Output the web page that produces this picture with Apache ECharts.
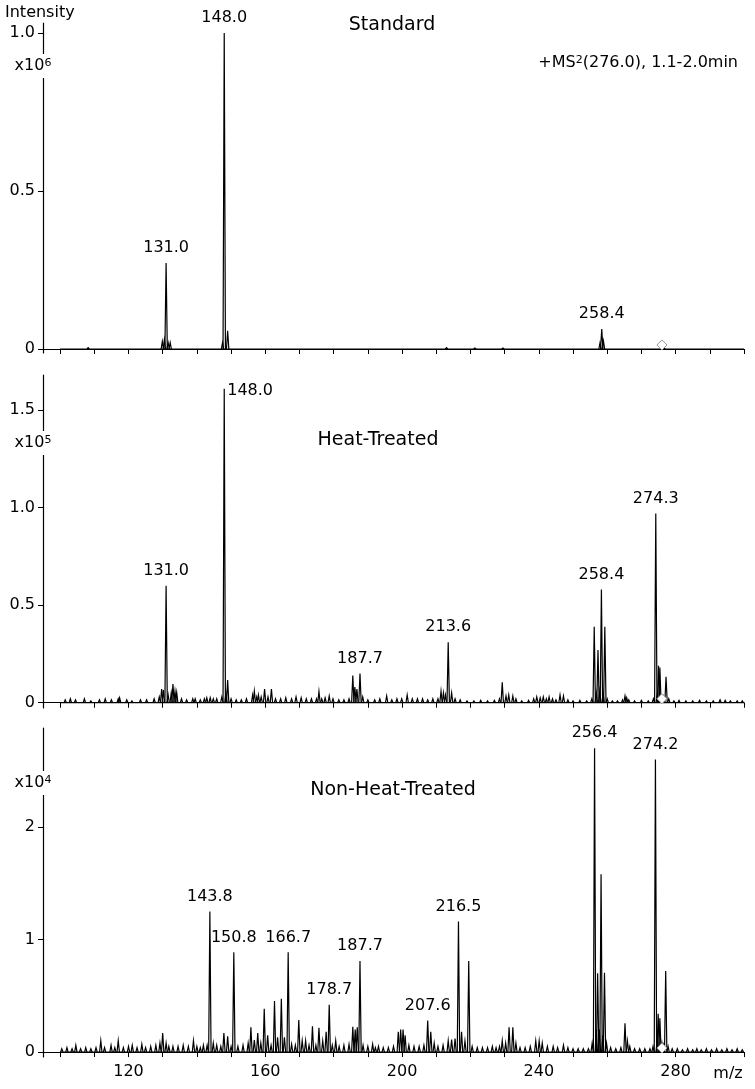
<!DOCTYPE html>
<html>
<head>
<meta charset="utf-8">
<script src="https://cdn.jsdelivr.net/npm/echarts@6/dist/echarts.min.js"></script>
<style>
html, body { margin: 0; padding: 0; background: #fff; }
#canvas { width: 755px; height: 1089px; }
</style>
</head>
<body>
<div id="canvas"></div>
<script>
var mzRange = [100, 300];
var precursorMz = 276.0;
var xTicks = [100, 110, 120, 130, 140, 150, 160, 170, 180, 190, 200, 210, 220, 230, 240, 250, 260, 270, 280, 290, 300];
var xTickLabels = [120, 160, 200, 240, 280];

// Standard, intensity x10^6
var standardPeaks = [
    [108.2, 0.004], [129.9, 0.024], [130.5, 0.03], [131.0, 0.272], [131.6, 0.02], [132.2, 0.02],
    [147.5, 0.02], [148.0, 1.0], [149.0, 0.058], [213.0, 0.004], [221.3, 0.003], [229.5, 0.003],
    [257.9, 0.02], [258.4, 0.063], [258.9, 0.025], [276.6, 0.004]
];
var standardLabels = ['131.0', '148.0', '258.4'];
var standardTicks = [0, 0.5, 1.0];

// Heat-Treated, intensity x10^5
var heatPeaks = [
    [101.5, 0.015], [103, 0.02], [104.5, 0.015], [107.1, 0.02], [109, 0.01], [111.5, 0.015], [113.2, 0.02],
    [115, 0.015], [117.0, 0.02], [117.4, 0.025], [119.5, 0.015], [121, 0.01], [123.5, 0.015], [125.3, 0.015],
    [127.5, 0.02], [129.0, 0.03], [129.7, 0.07], [130.2, 0.065], [131.0, 0.60], [131.6, 0.04], [132.5, 0.05],
    [133.0, 0.096], [133.6, 0.06], [134.1, 0.053], [135.5, 0.02], [137, 0.015], [138.8, 0.02], [139.5, 0.02],
    [141, 0.015], [142.2, 0.02], [142.9, 0.025], [143.9, 0.025], [144.8, 0.02], [145.8, 0.02], [147.3, 0.03],
    [148.0, 1.61], [148.5, 0.05], [149.0, 0.116], [150, 0.02], [151.5, 0.015], [153, 0.015], [154.5, 0.02],
    [156.3, 0.04], [156.8, 0.06], [157.5, 0.03], [158.0, 0.04], [158.8, 0.03], [159.8, 0.07], [160.8, 0.03],
    [161.8, 0.07], [163, 0.02], [164.5, 0.02], [166, 0.025], [167.7, 0.02], [169, 0.03], [170.5, 0.025],
    [172, 0.02], [173.5, 0.02], [175.0, 0.02], [175.7, 0.058], [176.5, 0.02], [177.5, 0.025], [178.7, 0.035],
    [179.8, 0.02], [181.5, 0.015], [183, 0.015], [184.5, 0.02], [185.6, 0.14], [186.2, 0.08], [186.8, 0.07],
    [187.7, 0.15], [188.5, 0.03], [190, 0.015], [192, 0.015], [193.5, 0.02], [195.5, 0.035], [197, 0.015],
    [198.5, 0.02], [199.9, 0.02], [201.5, 0.04], [203, 0.02], [204.5, 0.02], [206, 0.02], [207.5, 0.015],
    [209, 0.02], [210.5, 0.02], [211.4, 0.06], [212.1, 0.05], [212.7, 0.04], [213.5, 0.31], [214.5, 0.05],
    [215.5, 0.02], [217, 0.015], [219, 0.01], [221, 0.01], [223, 0.012], [225, 0.01], [227, 0.012],
    [228.5, 0.02], [229.3, 0.105], [230.4, 0.035], [231.2, 0.04], [232.4, 0.035], [233.3, 0.02], [235, 0.01],
    [237, 0.012], [238.5, 0.02], [239.4, 0.03], [240.4, 0.025], [241.3, 0.03], [242.2, 0.02], [243.0, 0.03],
    [244.0, 0.02], [245, 0.015], [246.2, 0.04], [247.2, 0.035], [248.5, 0.015], [250, 0.01], [252, 0.012],
    [254, 0.01], [255.5, 0.02], [256.2, 0.39], [256.8, 0.05], [257.3, 0.27], [257.8, 0.06], [258.3, 0.58],
    [258.8, 0.05], [259.3, 0.39], [260, 0.02], [261.5, 0.01], [263, 0.01], [264.5, 0.015], [265.2, 0.035],
    [265.7, 0.025], [266.3, 0.015], [268, 0.01], [270, 0.012], [272, 0.01], [273.5, 0.02], [274.2, 0.97],
    [274.6, 0.04], [275.0, 0.19], [275.4, 0.18], [276.0, 0.03], [276.5, 0.03], [277.2, 0.133], [278, 0.02],
    [279.5, 0.01], [281, 0.012], [283, 0.01], [285, 0.01], [287, 0.012], [289, 0.01], [291, 0.01],
    [293, 0.015], [294.5, 0.012], [296, 0.01], [298, 0.01], [299.5, 0.01]
];
var heatLabels = ['131.0', '148.0', '187.7', '213.6', '258.4', '274.3'];
var heatTicks = [0, 0.5, 1.0, 1.5];

// Non-Heat-Treated, intensity x10^4
var nonHeatPeaks = [
    [100.5, 0.03], [102, 0.04], [103.5, 0.03], [104.6, 0.06], [106, 0.03], [107.5, 0.04], [109, 0.03],
    [110.5, 0.04], [111.9, 0.1], [113, 0.04], [114.9, 0.06], [116.0, 0.04], [117.0, 0.1], [118.5, 0.04],
    [120, 0.05], [121.1, 0.06], [122.5, 0.04], [123.9, 0.07], [125, 0.04], [126.5, 0.05], [128, 0.06],
    [129.2, 0.08], [130.0, 0.17], [131.0, 0.08], [131.8, 0.05], [133, 0.05], [134.5, 0.05], [136, 0.06],
    [137.5, 0.05], [139, 0.1], [140, 0.05], [141, 0.04], [141.9, 0.06], [143, 0.06], [143.8, 1.25],
    [144.8, 0.08], [145.8, 0.06], [147, 0.05], [147.9, 0.17], [149.0, 0.14], [150.0, 0.05], [150.8, 0.886],
    [152, 0.05], [153.5, 0.06], [155, 0.08], [155.8, 0.22], [156.8, 0.107], [157.8, 0.17], [158.7, 0.08],
    [159.7, 0.385], [160.7, 0.15], [161.7, 0.06], [162.7, 0.453], [163.6, 0.13], [164.7, 0.474],
    [165.6, 0.13], [166.7, 0.886], [167.7, 0.07], [168.8, 0.06], [169.8, 0.284], [170.8, 0.1], [171.8, 0.1],
    [172.8, 0.06], [173.8, 0.23], [174.8, 0.06], [175.7, 0.216], [176.8, 0.1], [177.8, 0.18], [178.7, 0.42],
    [179.6, 0.06], [180.6, 0.1], [181.6, 0.05], [183, 0.06], [184.5, 0.07], [185.6, 0.225], [186.3, 0.2],
    [186.9, 0.22], [187.7, 0.81], [188.6, 0.06], [190, 0.05], [191.4, 0.07], [192.2, 0.04], [193.1, 0.05],
    [194.5, 0.04], [196, 0.04], [197.5, 0.05], [198.9, 0.18], [199.6, 0.2], [200.3, 0.2], [200.9, 0.15],
    [202, 0.06], [203.5, 0.05], [205, 0.05], [206.4, 0.06], [207.5, 0.28], [208.4, 0.18], [209.4, 0.08],
    [210.5, 0.05], [212, 0.06], [213.5, 0.1], [214.5, 0.11], [215.5, 0.12], [216.5, 1.16], [217.4, 0.18],
    [218.4, 0.1], [219.5, 0.81], [220.5, 0.05], [222, 0.04], [223.5, 0.04], [225, 0.04], [226.4, 0.05],
    [227.5, 0.04], [228.5, 0.05], [229.3, 0.1], [230.3, 0.08], [231.3, 0.22], [232.4, 0.22], [233.3, 0.08],
    [234.5, 0.04], [236, 0.04], [237.5, 0.05], [239.1, 0.1], [240.1, 0.1], [241.0, 0.08], [242.5, 0.05],
    [244.2, 0.05], [245.5, 0.04], [247.2, 0.06], [248.5, 0.04], [250, 0.03], [251.5, 0.03], [253, 0.03],
    [254.5, 0.03], [255.6, 0.08], [256.3, 2.70], [256.8, 0.2], [257.2, 0.70], [257.7, 0.2], [258.2, 1.58],
    [258.7, 0.15], [259.2, 0.705], [259.8, 0.08], [261, 0.04], [262.5, 0.03], [264, 0.04], [265.2, 0.255],
    [265.9, 0.1], [266.6, 0.05], [268, 0.03], [269.5, 0.03], [271, 0.03], [272.5, 0.03], [273.4, 0.05],
    [274.1, 2.60], [274.6, 0.1], [274.9, 0.34], [275.4, 0.3], [276.0, 0.08], [276.5, 0.06], [277.1, 0.72],
    [277.8, 0.05], [279, 0.03], [280.5, 0.03], [282, 0.02], [283.5, 0.03], [285, 0.02], [286.2, 0.03],
    [287.5, 0.02], [289, 0.03], [290.5, 0.02], [292, 0.03], [293.5, 0.02], [295, 0.03], [296.5, 0.02],
    [298, 0.03], [299.5, 0.02]
];
var nonHeatLabels = ['143.8', '150.8', '166.7', '178.7', '187.7', '207.6', '216.5', '256.4', '274.2'];
var nonHeatTicks = [0, 1, 2];

var panelTitles = ['Standard', 'Heat-Treated', 'Non-Heat-Treated'];
var panelExponents = ['6', '5', '4'];
var yRanges = [[-0.0127, 1.032], [-0.027, 1.68], [-0.044, 2.88]];

var FONT = 'DejaVu Sans';
var gridTops = [23, 375, 728];
var gridHeights = [330, 333, 329];

// biggest peak within half a unit of the label's m/z
var findPeak = function(peaks, text) {
    var mz = parseFloat(text), best = null;
    for (var i in peaks) {
        var p = peaks[i];
        if (Math.abs(p[0] - mz) <= 0.5 && (best == null || p[1] > best[1])) best = p;
    }
    return best;
}

var peakSeries = function(peaks, idx) {
    return {
        type: 'custom',
        xAxisIndex: idx, yAxisIndex: idx,
        encode: {x: 0, y: 1},
        data: peaks,
        silent: true,
        renderItem: function(params, api) {
            var mz = api.value(0), h = api.value(1);
            return {
                type: 'polyline',
                shape: {points: [api.coord([mz - 0.35, 0]), api.coord([mz, h]), api.coord([mz + 0.35, 0])]},
                style: {stroke: '#000', lineWidth: 1.2, fill: null}
            };
        }
    };
}

var labelSeries = function(peaks, labels, idx) {
    var items = labels.map(function(t) {
        var p = findPeak(peaks, t);
        return [p[0], p[1]];
    });
    return {
        type: 'custom',
        xAxisIndex: idx, yAxisIndex: idx,
        encode: {x: 0, y: 1},
        data: items,
        silent: true,
        z: 5,
        renderItem: function(params, api) {
            var pt = api.coord([api.value(0), api.value(1)]);
            var style = {text: labels[params.dataIndex], fontSize: 16, fontFamily: FONT, fill: '#000'};
            // no room above inside the lower panels: put it beside the peak
            if (idx > 0 && pt[1] - 26 < params.coordSys.y - 6) {
                style.x = pt[0] + 3; style.y = pt[1] - 6; style.align = 'left'; style.verticalAlign = 'top';
            } else {
                style.x = pt[0]; style.y = pt[1] - 7; style.align = 'center'; style.verticalAlign = 'bottom';
            }
            return {type: 'text', style: style};
        }
    };
}

var myChart = echarts.init(document.getElementById('canvas'));
var grids = [], xAxes = [], yAxes = [], series = [];
var allPeaks = [standardPeaks, heatPeaks, nonHeatPeaks];
var allLabels = [standardLabels, heatLabels, nonHeatLabels];
var allTicks = [standardTicks, heatTicks, nonHeatTicks];

for (var i = 0; i < 3; i++) {
    grids.push({left: 43, right: 11, top: gridTops[i], height: gridHeights[i]});
    xAxes.push({
        type: 'value', gridIndex: i, min: 95, max: 300,
        splitLine: {show: false},
        axisLine: {lineStyle: {color: '#000', width: 1.2}},
        axisTick: {length: 5, customValues: xTicks, lineStyle: {color: '#000', width: 1}},
        axisLabel: {
            show: i == 2, margin: 7, color: '#000', fontSize: 16, fontFamily: FONT,
            customValues: xTickLabels
        }
    });
    yAxes.push({
        type: 'value', gridIndex: i, min: yRanges[i][0], max: yRanges[i][1],
        splitLine: {show: false},
        axisLine: {show: true, lineStyle: {color: '#000', width: 1.2}},
        axisTick: {show: true, length: 5, customValues: allTicks[i], lineStyle: {color: '#000', width: 1}},
        axisLabel: {
            color: '#000', fontSize: 16, fontFamily: FONT, margin: 8,
            customValues: allTicks[i],
            formatter: (function(ticks) {
                return function(v) {
                    if (Math.abs(v) < 1e-9) return '0';
                    return ticks[1] < 1 ? v.toFixed(1) : String(Math.round(v));
                };
            })(allTicks[i])
        }
    });
    series.push({
        type: 'line', xAxisIndex: i, yAxisIndex: i, data: [[mzRange[0], 0], [mzRange[1], 0]],
        symbol: 'none', silent: true, lineStyle: {color: '#000', width: 1.2}
    });
    series.push(peakSeries(allPeaks[i], i));
    series.push(labelSeries(allPeaks[i], allLabels[i], i));
    series.push({
        type: 'scatter', xAxisIndex: i, yAxisIndex: i, data: [[precursorMz, 0]],
        symbol: 'diamond', symbolSize: 10, symbolOffset: [0, -4], silent: true, z: 10,
        itemStyle: {color: '#fff', borderColor: '#999', borderWidth: 1, opacity: 1}
    });
}

var graphics = [
    {type: 'text', x: 5, y: 13, z: 100, style: {text: 'Intensity', fontSize: 16, fontFamily: FONT, fill: '#000', verticalAlign: 'middle'}},
    {type: 'text', x: 738, y: 63, z: 100, style: {
        text: '+MS{s|2}(276.0), 1.1-2.0min', fontSize: 16, fontFamily: FONT, fill: '#000',
        align: 'right', verticalAlign: 'middle',
        rich: {s: {fontSize: 11, fontFamily: FONT, fill: '#000', verticalAlign: 'top'}}
    }},
    {type: 'text', x: 728, y: 1074, z: 100, style: {text: 'm/z', fontSize: 16, fontFamily: FONT, fill: '#000', align: 'center', verticalAlign: 'middle'}}
];
var titlePos = [[392, 25], [378, 440], [393, 790]];
var expY = [66, 443, 783];
for (var i = 0; i < 3; i++) {
    graphics.push({type: 'text', x: titlePos[i][0], y: titlePos[i][1], z: 100, style: {
        text: panelTitles[i], fontSize: 19, fontFamily: FONT, fill: '#000', align: 'center', verticalAlign: 'middle'
    }});
    graphics.push({type: 'text', x: 33, y: expY[i], z: 100, style: {
        text: 'x10{s|' + panelExponents[i] + '}', fontSize: 16, fontFamily: FONT, fill: '#000',
        align: 'center', verticalAlign: 'middle', backgroundColor: '#fff', padding: [4, 1],
        rich: {s: {fontSize: 11, fontFamily: FONT, fill: '#000', verticalAlign: 'top'}}
    }});
}

var option = {
    backgroundColor: '#fff',
    animation: false,
    grid: grids,
    xAxis: xAxes,
    yAxis: yAxes,
    series: series,
    graphic: graphics
};
myChart.setOption(option);
</script>
</body>
</html>
